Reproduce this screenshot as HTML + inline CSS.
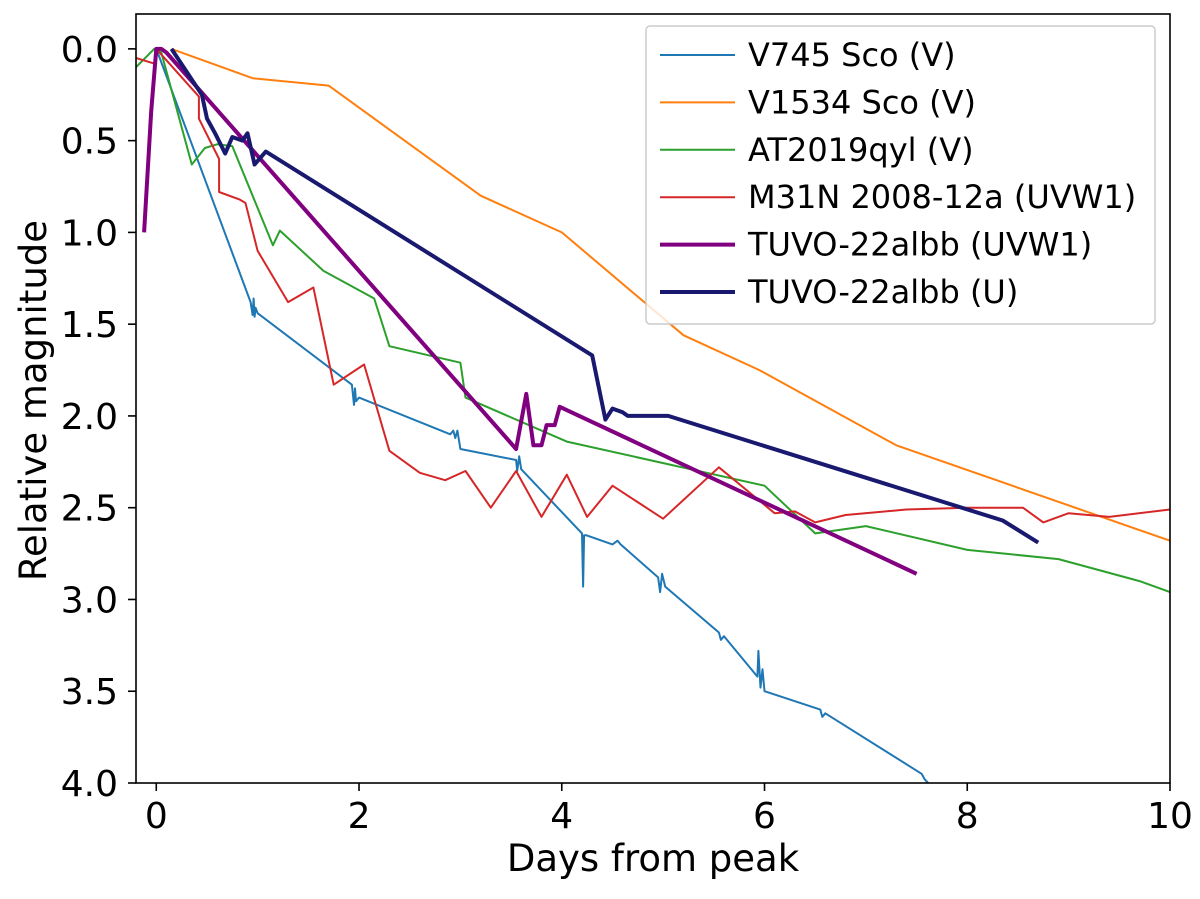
<!DOCTYPE html>
<html><head><meta charset="utf-8"><style>
body{margin:0;background:#fff;}
svg text{font-family:"DejaVu Sans","Liberation Sans",sans-serif;}
</style></head><body>
<svg id="chart" width="1200" height="894" xmlns="http://www.w3.org/2000/svg"></svg>
<script>
const xTicks=[0,2,4,6,8,10];
const yTicks=[0.0,0.5,1.0,1.5,2.0,2.5,3.0,3.5,4.0];
const seriesNames=["V745 Sco (V)","V1534 Sco (V)","AT2019qyl (V)","M31N 2008-12a (UVW1)","TUVO-22albb (UVW1)","TUVO-22albb (U)"];
const v745X=[0,0.93,0.95,0.96,0.97,0.98,1.0,1.93,1.95,1.96,1.97,2.0,2.9,2.93,2.95,2.97,3.0,3.55,3.56,3.58,3.6,4.2,4.21,4.22,4.24,4.5,4.55,4.58,4.95,4.97,4.99,5.02,5.55,5.57,5.6,5.93,5.94,5.96,5.98,6.0,6.55,6.57,6.6,7.55,7.58,7.7];
const v745Y=[0,1.38,1.45,1.36,1.46,1.41,1.44,1.83,1.94,1.85,1.92,1.9,2.1,2.08,2.12,2.08,2.18,2.24,2.3,2.22,2.29,2.64,2.93,2.65,2.65,2.7,2.68,2.7,2.88,2.96,2.86,2.93,3.18,3.22,3.2,3.42,3.28,3.48,3.38,3.5,3.6,3.64,3.62,3.95,3.98,4.05];
const v1534X=[0.15,0.95,1.7,3.2,4.0,5.2,5.95,7.3,10];
const v1534Y=[0.0,0.16,0.2,0.8,1.0,1.56,1.75,2.16,2.68];
const atX=[-0.2,-0.02,0.05,0.35,0.48,0.6,0.75,1.15,1.22,1.65,2.15,2.3,3.0,3.05,4.05,6.0,6.5,7.0,8.0,8.9,9.7,10];
const atY=[0.1,0.0,0.02,0.63,0.54,0.52,0.53,1.07,0.99,1.21,1.36,1.62,1.71,1.9,2.14,2.38,2.64,2.6,2.73,2.78,2.9,2.96];
const m31X=[-0.2,-0.02,0.0,0.42,0.42,0.62,0.62,0.82,0.88,1.0,1.3,1.55,1.75,2.05,2.3,2.6,2.85,3.05,3.3,3.55,3.8,4.05,4.25,4.5,5.0,5.55,6.1,6.3,6.5,6.8,7.4,8.0,8.55,8.75,9.0,9.4,10];
const m31Y=[0.05,0.08,0.0,0.26,0.38,0.6,0.78,0.82,0.84,1.1,1.38,1.3,1.83,1.72,2.19,2.31,2.35,2.3,2.5,2.3,2.55,2.32,2.55,2.38,2.56,2.28,2.53,2.52,2.58,2.54,2.51,2.5,2.5,2.58,2.53,2.55,2.51];
const uvw1X=[-0.12,-0.05,0.0,0.05,0.1,3.55,3.65,3.72,3.8,3.85,3.93,3.98,7.5];
const uvw1Y=[1.0,0.34,0.0,0.0,0.02,2.18,1.88,2.16,2.16,2.05,2.05,1.95,2.86];
const uX=[0.15,0.45,0.5,0.58,0.68,0.75,0.85,0.9,0.97,1.08,4.3,4.43,4.5,4.6,4.65,5.05,8.35,8.7];
const uY=[0.0,0.25,0.38,0.46,0.57,0.48,0.5,0.46,0.63,0.56,1.67,2.02,1.96,1.98,2.0,2.0,2.57,2.69];

const L=136,R=1170,T=14,B=783;
const X0=-0.2,X1=10,Y0=-0.19,Y1=4.0;
const sx=v=>L+(v-X0)/(X1-X0)*(R-L);
const sy=v=>T+(v-Y0)/(Y1-Y0)*(B-T);
const svg=document.getElementById('chart');
const NS='http://www.w3.org/2000/svg';
function mk(t,a){const e=document.createElementNS(NS,t);for(const k in a)e.setAttribute(k,a[k]);svg.appendChild(e);return e;}

const clip=mk('clipPath',{id:'pc'});
const cr=document.createElementNS(NS,'rect');cr.setAttribute('x',L);cr.setAttribute('y',T);cr.setAttribute('width',R-L);cr.setAttribute('height',B-T);clip.appendChild(cr);

const series=[[v745X,v745Y,'#1f77b4',2,'series-v745-sco'],[v1534X,v1534Y,'#ff7f0e',2,'series-v1534-sco'],[atX,atY,'#2ca02c',2,'series-at2019qyl'],[m31X,m31Y,'#d62728',2,'series-m31n'],[uvw1X,uvw1Y,'#800080',4,'series-tuvo-uvw1'],[uX,uY,'#191970',4,'series-tuvo-u']];
series.forEach(s=>{
  const p=s[0].map((x,i)=>sx(x).toFixed(1)+','+sy(s[1][i]).toFixed(1)).join(' ');
  const e=mk('polyline',{points:p,fill:'none',stroke:s[2],'stroke-width':s[3],'stroke-linejoin':'round','clip-path':'url(#pc)'});
  
  
});

const frame=mk('rect',{x:L,y:T,width:R-L,height:B-T,fill:'none',stroke:'#000','stroke-width':1.6});



xTicks.forEach(v=>{
  mk('line',{x1:sx(v),x2:sx(v),y1:B,y2:B+8,stroke:'#000','stroke-width':1.6});
  const t=mk('text',{x:sx(v),y:B+45,'font-size':36,'text-anchor':'middle'});t.textContent=String(v);
  
  
});
yTicks.forEach(v=>{
  mk('line',{x1:L-8,x2:L,y1:sy(v),y2:sy(v),stroke:'#000','stroke-width':1.6});
  const t=mk('text',{x:L-18,y:sy(v)+13,'font-size':36,'text-anchor':'end'});t.textContent=v.toFixed(1);
  
  
});
const xl=mk('text',{x:(L+R)/2,y:871,'font-size':37,'text-anchor':'middle'});xl.textContent='Days from peak';


const yl=mk('text',{x:0,y:0,'font-size':37,'text-anchor':'middle',transform:'translate(46,'+((T+B)/2+2)+') rotate(-90)'});yl.textContent='Relative magnitude';



const lg=mk('rect',{x:646,y:26,width:509,height:298,rx:4,fill:'#fff','fill-opacity':0.8,stroke:'#ccc','stroke-width':1.5});


series.forEach((s,i)=>{
  const y=55+i*47.4;
  mk('line',{x1:660,x2:735,y1:y,y2:y,stroke:s[2],'stroke-width':s[3]});
  const t=mk('text',{x:748,y:y+11,'font-size':32});t.textContent=seriesNames[i];
  
  
});
</script>
</body></html>
